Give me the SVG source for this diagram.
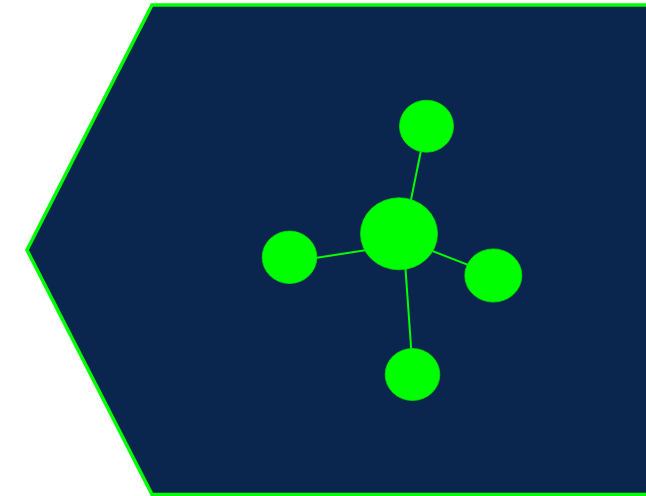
<svg xmlns="http://www.w3.org/2000/svg" width="646" height="496" viewBox="0 0 646 496">
<style>
.bg{fill:#0a264f;stroke:#00ff00;stroke-width:3.5;}
.node{fill:#00ff00;stroke:#00e600;stroke-width:0.8;}
.edge{stroke:#00ff00;stroke-width:2;fill:none;}
</style>
<polygon class="bg" points="152,5 700,5 700,494.5 152,494.5 27,250"/>
<g id="connectors">
<line class="edge" x1="404" y1="234" x2="426" y2="126"/>
<line class="edge" x1="399" y1="245" x2="289.5" y2="262"/>
<line class="edge" x1="399" y1="238" x2="493" y2="274.6"/>
<line class="edge" x1="403" y1="234" x2="413" y2="374.5"/>
</g>
<g id="node-center"><ellipse class="node" cx="399" cy="233.8" rx="38.5" ry="36"/></g>
<g id="node-top"><ellipse class="node" cx="426.5" cy="126.2" rx="27" ry="26"/></g>
<g id="node-left"><ellipse class="node" cx="289.5" cy="257.3" rx="27.3" ry="26.2"/></g>
<g id="node-right"><ellipse class="node" cx="493.3" cy="275.5" rx="28.5" ry="26.6"/></g>
<g id="node-bottom"><ellipse class="node" cx="412.5" cy="374.5" rx="27.3" ry="26"/></g>
</svg>
